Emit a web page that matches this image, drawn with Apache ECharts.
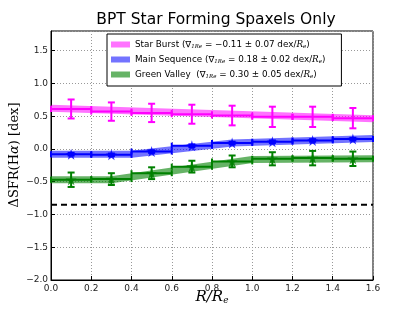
<!DOCTYPE html>
<html>
<head>
<meta charset="utf-8">
<script src="https://cdn.jsdelivr.net/npm/echarts@6/dist/echarts.min.js"></script>
<style>html,body{margin:0;padding:0;background:#fff}#c{width:415px;height:312px}</style>
</head>
<body>
<div id="c"></div>
<script>
// ---- data ----
var binX = [0.1, 0.3, 0.5, 0.7, 0.9, 1.1, 1.3, 1.5];
var binHalfWidth = 0.1;
var sbY   = [0.61, 0.57, 0.55, 0.53, 0.51, 0.49, 0.49, 0.47];
var sbErr = [0.145, 0.14, 0.14, 0.145, 0.15, 0.155, 0.155, 0.155];
var msY   = [-0.08, -0.09, -0.04, 0.05, 0.09, 0.11, 0.13, 0.15];
var msErr = [0.02, 0.02, 0.02, 0.02, 0.02, 0.02, 0.02, 0.02];
var gvY   = [-0.47, -0.46, -0.37, -0.27, -0.19, -0.15, -0.14, -0.15];
var gvErr = [0.11, 0.09, 0.09, 0.09, 0.09, 0.1, 0.11, 0.11];
var sbBandX = [0, 1.6];
var sbBandY = [0.62, 0.46];
var msBandX = [0, 0.4, 0.9, 1.6];
var msBandY = [-0.08, -0.08, 0.09, 0.16];
var gvBandX = [0, 0.3, 1.0, 1.6];
var gvBandY = [-0.47, -0.47, -0.16, -0.15];
var refLineY = [-0.85];
var xTicks = [0, 0.2, 0.4, 0.6, 0.8, 1.0, 1.2, 1.4, 1.6];
var yTicks = [-2.0, -1.5, -1.0, -0.5, 0.0, 0.5, 1.0, 1.5];
var names = ['Star Burst', 'Main Sequence', 'Green Valley'];
var legendTexts = [
  ['Star Burst (∇', '1Re', ' = −0.11 ± 0.07 dex/'],
  ['Main Sequence (∇', '1Re', ' = 0.18 ± 0.02 dex/'],
  ['Green Valley  (∇', '1Re', ' = 0.30 ± 0.05 dex/']
];

var colors = ['#ff00ff', '#0000ff', '#008000'];
var bandColors = ['rgba(255,0,255,0.55)', 'rgba(0,0,255,0.55)', 'rgba(0,128,0,0.6)'];

function zip(a, b) { return a.map(function (v, i) { return [v, b[i]]; }); }
function zip3(a, b, c) { return a.map(function (v, i) { return [v, b[i], c[i]]; }); }

var starPath = 'path://M50,0 L61,35 L98,35 L68,57 L79,91 L50,70 L21,91 L32,57 L2,35 L39,35 Z';

function errRender(color) {
  return function (params, api) {
    var x = api.value(0), y = api.value(1), e = api.value(2);
    var pL = api.coord([x - binHalfWidth, y]);
    var pR = api.coord([x + binHalfWidth, y]);
    var pT = api.coord([x, y + e]);
    var pB = api.coord([x, y - e]);
    var st = { stroke: color, lineWidth: 2 };
    var cap = 3.5, hcap = 3;
    return {
      type: 'group',
      children: [
        { type: 'line', shape: { x1: pL[0], y1: pL[1], x2: pR[0], y2: pR[1] }, style: st },
        { type: 'line', shape: { x1: pL[0], y1: pL[1] - hcap, x2: pL[0], y2: pL[1] + hcap }, style: st },
        { type: 'line', shape: { x1: pR[0], y1: pR[1] - hcap, x2: pR[0], y2: pR[1] + hcap }, style: st },
        { type: 'line', shape: { x1: pT[0], y1: pT[1], x2: pB[0], y2: pB[1] }, style: st },
        { type: 'line', shape: { x1: pT[0] - cap, y1: pT[1], x2: pT[0] + cap, y2: pT[1] }, style: st },
        { type: 'line', shape: { x1: pB[0] - cap, y1: pB[1], x2: pB[0] + cap, y2: pB[1] }, style: st }
      ]
    };
  };
}

var bands = [zip(sbBandX, sbBandY), zip(msBandX, msBandY), zip(gvBandX, gvBandY)];
var pts = [zip3(binX, sbY, sbErr), zip3(binX, msY, msErr), zip3(binX, gvY, gvErr)];

var series = [];
for (var i = 0; i < 3; i++) {
  series.push({
    name: names[i], type: 'line', data: bands[i], symbol: 'none', z: 2,
    lineStyle: { color: bandColors[i], width: 7 },
    itemStyle: { color: bandColors[i] }
  });
}
for (var i = 0; i < 3; i++) {
  series.push({
    type: 'custom', data: pts[i], z: 3,
    renderItem: errRender(colors[i]),
    encode: { x: 0, y: 1 }
  });
}
series.push({
  type: 'scatter', data: zip(binX, msY), symbol: starPath, symbolSize: 11, z: 4,
  itemStyle: { color: colors[1] }
});
series.push({
  type: 'scatter', data: zip(binX, gvY), symbol: starPath, symbolSize: 11, z: 4,
  itemStyle: { color: colors[2] }
});
series.push({
  type: 'line', data: [[xTicks[0], refLineY[0]], [xTicks[xTicks.length - 1], refLineY[0]]],
  symbol: 'none', z: 2,
  lineStyle: { color: '#000', width: 2, type: [6, 4] }
});

var legendData = names.map(function (n, i) {
  return { name: n, icon: 'rect', itemStyle: { color: bandColors[i] } };
});

var chart = echarts.init(document.getElementById('c'), null, { renderer: 'canvas' });
chart.setOption({
  animation: false,
  backgroundColor: '#fff',
  title: {
    text: 'BPT Star Forming Spaxels Only', left: 211, textAlign: 'center', top: 7,
    textStyle: { fontFamily: 'DejaVu Sans', fontSize: 15.5, fontWeight: 'normal', color: '#000' }
  },
  grid: { left: 51, right: 42, top: 31, bottom: 32, show: true, borderColor: '#000', borderWidth: 1 },
  legend: {
    data: legendData, orient: 'vertical', left: 107, top: 34,
    backgroundColor: '#fff', borderColor: '#000', borderWidth: 1,
    padding: [6, 16, 6, 4], itemGap: 5, itemWidth: 19, itemHeight: 6,
    formatter: function (n) {
      var t = legendTexts[names.indexOf(n)];
      return '{a|' + t[0] + '}{s|' + t[1] + '}{a|' + t[2] + '}{i|R}{s|e}{a|)}';
    },
    textStyle: {
      rich: {
        a: { fontFamily: 'DejaVu Sans', fontSize: 8.8, color: '#000', height: 9 },
        s: { fontFamily: 'DejaVu Serif', fontSize: 5.5, fontStyle: 'italic', color: '#000', padding: [5, 0, 0, 0] },
        i: { fontFamily: 'DejaVu Serif', fontSize: 8.8, fontStyle: 'italic', color: '#000' }
      }
    }
  },
  xAxis: {
    type: 'value', min: 0, max: 1.6, interval: 0.2,
    axisLine: { show: true, onZero: false, lineStyle: { color: '#000' } },
    axisTick: { inside: true, length: 4, lineStyle: { color: '#000' } },
    axisLabel: { fontFamily: 'DejaVu Sans', fontSize: 9, color: '#222', margin: 4,
      formatter: function (v) { return v.toFixed(1); } },
    splitLine: { show: true, lineStyle: { color: '#999', type: [1, 2], width: 1 } }
  },
  yAxis: {
    type: 'value', min: -2, max: 1.8, interval: 0.5,
    axisLine: { show: true, onZero: false, lineStyle: { color: '#000' } },
    axisTick: { inside: true, length: 4, lineStyle: { color: '#000' } },
    axisLabel: { fontFamily: 'DejaVu Sans', fontSize: 9, color: '#222', margin: 3, showMaxLabel: false,
      formatter: function (v) { return (v < 0 ? '\u2212' : '') + Math.abs(v).toFixed(1); } },
    splitLine: { show: true, lineStyle: { color: '#999', type: [1, 2], width: 1 } }
  },
  graphic: [
    {
      type: 'text', x: 212, y: 297,
      style: {
        text: '{i|R}{a|/}{i|R}{s|e}', align: 'center', verticalAlign: 'middle',
        rich: {
          i: { fontFamily: 'DejaVu Serif', fontStyle: 'italic', fontSize: 15, color: '#000' },
          a: { fontFamily: 'DejaVu Serif', fontStyle: 'italic', fontSize: 15, color: '#000' },
          s: { fontFamily: 'DejaVu Serif', fontStyle: 'italic', fontSize: 9, color: '#000', padding: [8, 0, 0, 0] }
        }
      }
    },
    {
      type: 'text', x: 15, y: 155, rotation: Math.PI / 2,
      style: {
        text: '{a|ΔSFR(H}{i|α}{a|) [dex]}', align: 'center', verticalAlign: 'middle',
        rich: {
          a: { fontFamily: 'DejaVu Serif', fontSize: 13, color: '#000' },
          i: { fontFamily: 'DejaVu Serif', fontStyle: 'italic', fontSize: 13, color: '#000' }
        }
      }
    }
  ],
  series: series
});
</script>
</body>
</html>
